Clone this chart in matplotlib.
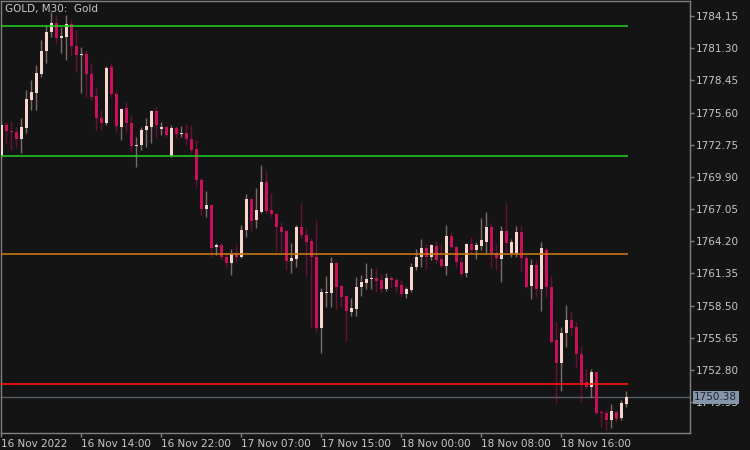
import numpy as np
from matplotlib import pyplot as plt

# GOLD M30 candles
opens = [1771.75, 1774.50, 1773.97, 1773.88, 1773.26, 1774.23, 1776.71, 1777.33, 1779.02, 1781.05,
         1782.74, 1783.53, 1782.20, 1782.29, 1783.44, 1781.50, 1780.70, 1780.79, 1779.02, 1777.07,
         1775.12, 1774.68, 1779.63, 1777.24, 1774.32, 1776.00, 1774.68, 1772.64, 1772.73, 1774.06,
         1774.32, 1775.74, 1774.14, 1774.32, 1771.75, 1774.23, 1773.70, 1773.79, 1773.26, 1772.37,
         1769.63, 1767.06, 1767.41, 1763.69, 1763.87, 1762.81, 1762.28, 1763.16, 1762.81, 1765.20,
         1767.94, 1766.08, 1766.79, 1769.45, 1766.97, 1766.62, 1765.46, 1765.11, 1762.45, 1762.63,
         1765.46, 1764.75, 1764.22, 1762.81, 1756.52, 1759.62, 1759.62, 1762.28, 1760.24, 1759.35,
         1757.93, 1758.20, 1760.15, 1760.50, 1760.86, 1760.95, 1760.77, 1759.97, 1760.95, 1760.77,
         1760.33, 1759.53, 1759.88, 1761.92, 1762.81, 1763.60, 1762.81, 1763.78, 1762.63, 1762.01,
         1764.67, 1763.69, 1762.36, 1761.39, 1763.96, 1763.43, 1763.78, 1764.13, 1765.46, 1763.16,
         1762.63, 1765.11, 1763.16, 1763.16, 1765.02, 1762.72, 1760.24, 1762.10, 1759.97, 1763.43,
         1760.15, 1755.46, 1753.42, 1756.08, 1757.23, 1756.61, 1754.22, 1751.74, 1751.29, 1752.62,
         1749.08, 1748.99, 1748.37, 1749.08, 1748.55, 1749.79]
highs = [1774.68, 1774.76, 1774.85, 1774.32, 1775.12, 1777.60, 1778.48, 1779.81, 1782.03, 1783.36,
         1784.51, 1784.24, 1783.18, 1784.24, 1783.80, 1782.91, 1781.41, 1781.14, 1779.99, 1777.86,
         1775.83, 1779.72, 1779.99, 1777.60, 1776.00, 1776.54, 1775.38, 1773.43, 1774.32, 1775.12,
         1775.83, 1776.09, 1774.76, 1774.41, 1774.50, 1774.41, 1774.41, 1774.59, 1774.50, 1773.17,
         1769.80, 1768.65, 1767.50, 1764.05, 1764.05, 1763.16, 1763.52, 1763.96, 1765.64, 1768.39,
         1768.03, 1768.92, 1770.96, 1770.42, 1768.47, 1766.70, 1765.91, 1765.20, 1764.05, 1765.64,
         1767.59, 1765.38, 1764.49, 1766.08, 1760.06, 1761.12, 1762.81, 1762.36, 1760.42, 1759.44,
         1759.18, 1761.04, 1761.21, 1762.28, 1761.83, 1761.83, 1761.30, 1761.39, 1761.12, 1760.95,
         1760.77, 1760.15, 1762.28, 1763.52, 1764.40, 1763.96, 1763.96, 1764.22, 1763.96, 1765.64,
         1765.02, 1763.78, 1762.81, 1764.05, 1764.58, 1764.13, 1766.26, 1766.79, 1765.82, 1763.96,
         1765.55, 1767.59, 1764.40, 1765.55, 1765.64, 1762.98, 1762.63, 1762.54, 1764.13, 1763.60,
         1761.12, 1757.05, 1756.61, 1758.56, 1757.93, 1757.05, 1754.93, 1752.89, 1752.89, 1752.71,
         1749.26, 1749.26, 1749.79, 1749.26, 1750.14, 1750.94]
lows = [1771.58, 1772.90, 1772.28, 1772.55, 1772.02, 1773.79, 1775.83, 1775.83, 1778.75, 1779.99,
        1782.29, 1781.76, 1780.88, 1780.26, 1780.70, 1779.19, 1777.33, 1776.98, 1776.71, 1774.06,
        1774.06, 1774.50, 1776.98, 1773.88, 1773.17, 1773.88, 1772.11, 1770.78, 1772.28, 1772.55,
        1772.90, 1773.35, 1773.61, 1773.43, 1771.66, 1773.35, 1773.43, 1772.73, 1772.02, 1769.01,
        1766.53, 1766.35, 1762.81, 1762.98, 1762.54, 1761.83, 1761.21, 1762.36, 1762.72, 1764.58,
        1765.11, 1765.38, 1766.70, 1766.70, 1766.35, 1763.34, 1763.25, 1761.66, 1761.39, 1761.92,
        1764.49, 1761.12, 1756.61, 1756.17, 1754.30, 1758.38, 1758.38, 1758.20, 1758.38, 1755.37,
        1757.58, 1757.58, 1759.35, 1759.97, 1759.97, 1759.71, 1759.62, 1759.80, 1760.15, 1759.71,
        1759.26, 1759.18, 1759.71, 1761.66, 1761.92, 1761.74, 1762.54, 1762.28, 1761.92, 1761.21,
        1763.60, 1761.92, 1761.04, 1761.04, 1763.16, 1762.63, 1763.43, 1763.16, 1761.83, 1761.66,
        1760.59, 1763.25, 1762.81, 1762.81, 1761.48, 1760.06, 1759.09, 1759.26, 1758.02, 1759.26,
        1755.19, 1749.88, 1750.94, 1754.84, 1755.90, 1752.98, 1749.97, 1751.21, 1750.41, 1748.90,
        1747.75, 1747.48, 1747.66, 1748.19, 1748.37, 1749.52]
closes = [1774.50, 1773.97, 1773.88, 1773.26, 1774.32, 1776.80, 1777.42, 1779.10, 1781.05, 1782.74,
          1783.53, 1782.20, 1782.38, 1783.44, 1781.50, 1780.70, 1780.79, 1779.02, 1776.98, 1775.12,
          1774.68, 1779.55, 1777.24, 1774.41, 1775.92, 1774.68, 1772.64, 1772.73, 1774.06, 1774.41,
          1775.74, 1774.50, 1774.32, 1773.61, 1774.23, 1773.70, 1773.79, 1773.26, 1772.28, 1769.63,
          1767.06, 1767.41, 1763.60, 1763.87, 1762.81, 1762.28, 1763.07, 1762.81, 1765.20, 1767.94,
          1766.00, 1766.97, 1769.45, 1766.88, 1766.62, 1765.46, 1765.02, 1762.45, 1762.72, 1765.46,
          1764.75, 1764.13, 1762.81, 1756.52, 1759.71, 1759.71, 1762.28, 1760.15, 1759.26, 1758.02,
          1758.29, 1760.15, 1760.59, 1760.86, 1760.95, 1760.68, 1759.97, 1760.95, 1760.77, 1760.15,
          1759.53, 1759.97, 1761.92, 1762.81, 1763.60, 1762.81, 1763.87, 1762.54, 1762.01, 1764.67,
          1763.69, 1762.36, 1761.30, 1763.96, 1763.43, 1763.87, 1764.31, 1765.46, 1763.16, 1762.72,
          1765.11, 1764.05, 1764.13, 1765.02, 1762.72, 1760.15, 1762.10, 1759.97, 1763.60, 1760.15,
          1755.28, 1753.42, 1756.08, 1757.23, 1756.52, 1754.22, 1751.65, 1751.29, 1752.62, 1748.99,
          1748.99, 1748.37, 1749.17, 1748.46, 1749.88, 1750.38]

levels = [1783.26, 1771.75, 1763.07, 1751.56]
level_colors = ["#22c422", "#22c422", "#c87414", "#ff1010"]
last_price = 1750.38

price_ticks = [1784.15, 1781.30, 1778.45, 1775.60, 1772.75, 1769.90, 1767.05,
               1764.20, 1761.35, 1758.50, 1755.65, 1752.80, 1749.95]
time_pos = [0, 16, 32, 48, 64, 80, 96, 112]
time_labels = ["16 Nov 2022", "16 Nov 14:00", "16 Nov 22:00", "17 Nov 07:00",
               "17 Nov 15:00", "18 Nov 00:00", "18 Nov 08:00", "18 Nov 16:00"]

bg = "#141414"
fg = "#c8c8c8"
bull = "#f8d6d0"
bear = "#c8105a"

o = np.array(opens)
h = np.array(highs)
l = np.array(lows)
c = np.array(closes)
x = np.arange(len(o))
up = c >= o

fig = plt.figure(figsize=(7.5, 4.5), dpi=100, facecolor=bg)
ax = fig.add_axes([1 / 750, 17 / 450, 689 / 750, 432 / 450], facecolor=bg)

# wicks
ax.vlines(x[up], l[up], h[up], color=bull, alpha=0.45, linewidth=1, zorder=2)
ax.vlines(x[~up], l[~up], h[~up], color=bear, alpha=0.45, linewidth=1, zorder=2)

# bodies
body = c - o
body = np.where(np.abs(body) < 0.09, np.where(up, 0.09, -0.09), body)
ax.bar(x, body, bottom=o, width=0.6, color=np.where(up, bull, bear),
       linewidth=0, zorder=3)

# level lines
for lv, col in zip(levels, level_colors):
    ax.hlines(lv, -0.3, len(o) - 0.7, color=col, linewidth=1.2, zorder=4)
ax.axhline(last_price, color="#56606a", linewidth=1, zorder=1)

ax.set_xlim(-0.06, 137.74)
ax.set_ylim(1747.22, 1785.48)

ax.yaxis.tick_right()
ax.set_yticks(price_ticks)
ax.set_yticklabels([f"{p:.2f}" for p in price_ticks])
ax.set_xticks(time_pos)
ax.set_xticklabels(time_labels, ha="left")
ax.tick_params(axis="y", colors="#808080", labelcolor=fg, labelsize=7.5,
               length=3, width=1, pad=1)
ax.tick_params(axis="x", colors="#808080", labelcolor=fg, labelsize=7.5,
               length=3, width=1, pad=1)
for lbl in ax.get_xticklabels():
    lbl.set_horizontalalignment("left")
for sp in ax.spines.values():
    sp.set_color("#808080")
    sp.set_linewidth(1)

ax.text(0.006, 0.993, "GOLD, M30:  Gold", transform=ax.transAxes,
        color=fg, fontsize=7.5, va="top", ha="left")

ax.annotate(f"{last_price:.2f}", xy=(1.0, last_price),
            xycoords=("axes fraction", "data"), xytext=(3, 0),
            textcoords="offset points", va="center", ha="left",
            fontsize=7.5, color="#1e2630", zorder=10, annotation_clip=False,
            bbox=dict(boxstyle="square,pad=0.15", facecolor="#8696aa",
                      edgecolor="none"))

fig.savefig("out.png", dpi=100, facecolor=bg)
